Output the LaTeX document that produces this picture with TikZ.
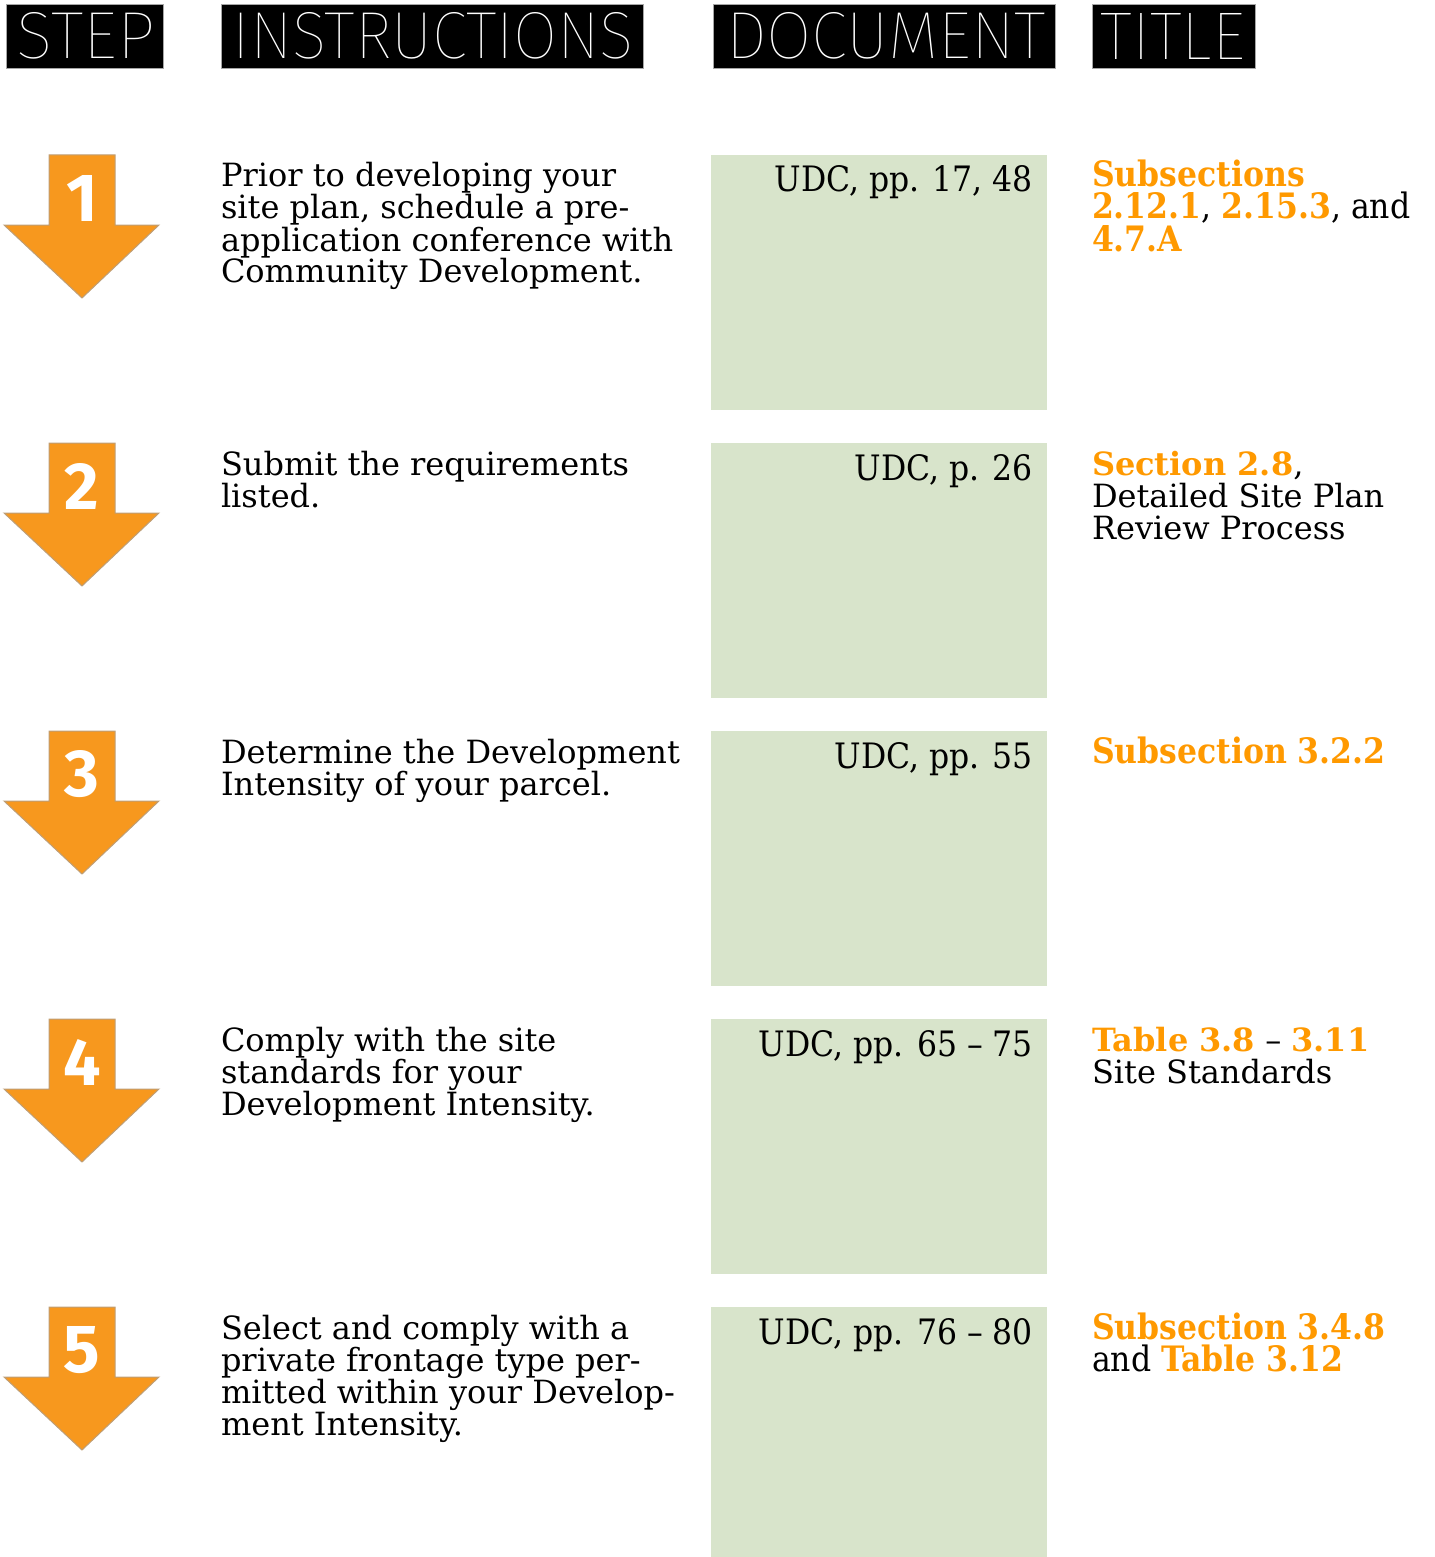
\documentclass[tikz,border=0pt]{standalone}
\usepackage{fontspec}
\setmainfont{DejaVu Serif}
\newfontfamily\condfont{DejaVu Serif Condensed}
\newfontfamily\hdrfont{Fira Sans Thin}
\newfontfamily\numfont{Fira Sans}

\definecolor{arrowfill}{RGB}{247,152,30}
\definecolor{arrowedge}{RGB}{190,158,118}
\definecolor{refcolor}{RGB}{255,153,0}
\definecolor{docgreen}{RGB}{216,228,203}

% multi-line cell whose reference point is the first baseline
\newcommand\leftcell[1]{\vtop{\baselineskip=32pt\lineskiplimit=-1000pt\lineskip=0pt\halign{##\hfil\cr#1\crcr}}}
\newcommand\hl[1]{{\bfseries\color{refcolor}#1}}
\newcommand\bodysize{\fontsize{32pt}{32pt}\selectfont}
\newcommand\condsize{\fontsize{35pt}{32pt}\selectfont}

\tikzset{
  every node/.style={inner sep=0pt, outer sep=0pt},
  hdrbox/.style={fill=black, draw=gray!70, line width=0.8pt},
  hdrtext/.style={text=white, font=\hdrfont},
  docbox/.style={fill=docgreen},
  steparrow/.style={fill=arrowfill, draw=arrowedge, line width=1pt, line join=miter},
  stepnum/.style={text=white, font=\numfont\bfseries},
  instr/.style={anchor=base west, font=\bodysize},
  docref/.style={anchor=base east, font=\condfont\condsize},
  titleref/.style={anchor=base west, font=\bodysize},
  titlecond/.style={anchor=base west, font=\condfont\condsize},
}

\begin{document}
\begin{tikzpicture}[x=1pt, y=-1pt]
\useasboundingbox (0,0) rectangle (1434,1557);

% column headers
\draw[hdrbox] (6,4) rectangle (163,68);
\node[hdrtext] (hstep) at (86,36) {\resizebox{138pt}{46pt}{STEP}};
\draw[hdrbox] (221,4) rectangle (643,68);
\node[hdrtext] (hinstr) at (433.5,36) {\resizebox{401pt}{46pt}{INSTRUCTIONS}};
\draw[hdrbox] (713,4) rectangle (1055,68);
\node[hdrtext] (hdoc) at (886,36) {\resizebox{320pt}{46pt}{DOCUMENT}};
\draw[hdrbox] (1092,4) rectangle (1255,68);
\node[hdrtext] (htitle) at (1173,36) {\resizebox{144pt}{46pt}{TITLE}};

% step arrows and document panels
\foreach \i in {1,...,5} {
  \pgfmathsetmacro{\yt}{155+288*(\i-1)}
  \draw[steparrow] (49,\yt) -- (115,\yt) -- (115,\yt+70) -- (159,\yt+70)
    -- (82,\yt+143) -- (4,\yt+70) -- (49,\yt+70) -- cycle;
  \node[stepnum] (num\i) at (82,\yt+43) {\resizebox{!}{46pt}{\i}};
}
\foreach \i in {1,...,4} {
  \pgfmathsetmacro{\yt}{155+288*(\i-1)}
  \fill[docbox] (711,\yt) rectangle (1047,\yt+255);
}
\fill[docbox] (711,1307) rectangle (1047,1557);

% row 1
\node[instr] (in1) at (221,187) {\leftcell{Prior to developing your\cr site plan, schedule a pre-\cr application conference with\cr Community Development.}};
\node[docref] (doc1) at (1033,192) {UDC, pp. 17, 48};
\node[titlecond] (ti1) at (1092,187) {\leftcell{\hl{Subsections}\cr \hl{2.12.1}, \hl{2.15.3}, and\cr \hl{4.7.A}}};

% row 2
\node[instr] (in2) at (221,475) {\leftcell{Submit the requirements\cr listed.}};
\node[docref] (doc2) at (1033,480) {UDC, p. 26};
\node[titleref] (ti2) at (1092,475) {\leftcell{\hl{Section 2.8},\cr Detailed Site Plan\cr Review Process}};

% row 3
\node[instr] (in3) at (221,763) {\leftcell{Determine the Development\cr Intensity of your parcel.}};
\node[docref] (doc3) at (1033,768) {UDC, pp. 55};
\node[titlecond] (ti3) at (1092,763) {\leftcell{\hl{Subsection 3.2.2}}};

% row 4
\node[instr] (in4) at (221,1051) {\leftcell{Comply with the site\cr standards for your\cr Development Intensity.}};
\node[docref] (doc4) at (1033,1056) {UDC, pp. 65 – 75};
\node[titleref] (ti4) at (1092,1051) {\leftcell{\hl{Table 3.8} – \hl{3.11}\cr Site Standards}};

% row 5
\node[instr] (in5) at (221,1339) {\leftcell{Select and comply with a\cr private frontage type per-\cr mitted within your Develop-\cr ment Intensity.}};
\node[docref] (doc5) at (1033,1344) {UDC, pp. 76 – 80};
\node[titlecond] (ti5) at (1092,1339) {\leftcell{\hl{Subsection 3.4.8}\cr and \hl{Table 3.12}}};
\end{tikzpicture}
\end{document}
